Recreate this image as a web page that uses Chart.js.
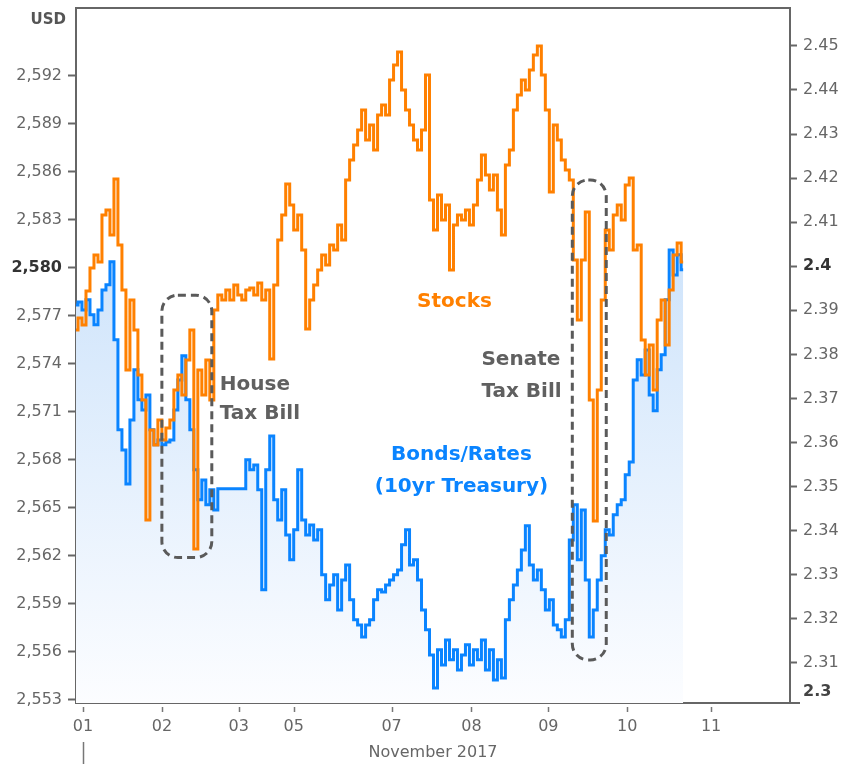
<!DOCTYPE html>
<html>
<head>
<meta charset="utf-8">
<script src="https://cdn.jsdelivr.net/npm/chart.js@4/dist/chart.umd.min.js"></script>
<style>
  body { margin: 0; background: #fff; }
  #wrap { width: 845px; height: 764px; position: relative; }
</style>
</head>
<body>
<div id="wrap"><canvas id="chart"></canvas></div>
<script>
// S&P futures (USD) and 10yr Treasury yield, sampled across the session
const stocks = [
  2576.13, 2576.88, 2576.44, 2578.56, 2580.00, 2580.81, 2580.38, 2583.31, 2583.63, 2582.06,
  2585.56, 2581.44, 2578.63, 2573.63, 2578.00, 2576.13, 2573.31, 2571.75, 2564.25, 2569.88,
  2568.94, 2570.50, 2569.25, 2570.00, 2570.50, 2572.38, 2573.31, 2572.06, 2574.25, 2576.13,
  2562.44, 2573.63, 2572.06, 2574.25, 2571.75, 2577.38, 2578.31, 2578.00, 2578.63, 2578.00,
  2578.94, 2578.31, 2578.00, 2578.63, 2578.75, 2578.31, 2579.06, 2578.00, 2578.63, 2574.31,
  2578.94, 2581.75, 2583.31, 2585.25, 2583.94, 2582.38, 2583.31, 2581.13, 2576.19, 2578.00,
  2578.94, 2579.88, 2580.81, 2580.19, 2581.44, 2581.13, 2582.69, 2581.75, 2585.50, 2586.75,
  2587.69, 2588.63, 2589.88, 2588.00, 2588.94, 2587.38, 2589.56, 2590.19, 2589.56, 2591.75,
  2592.69, 2593.50, 2591.13, 2589.88, 2588.94, 2588.00, 2587.38, 2588.63, 2592.06, 2584.25,
  2582.38, 2584.56, 2583.00, 2583.94, 2579.88, 2582.69, 2583.31, 2583.00, 2583.63, 2582.69,
  2583.94, 2585.50, 2587.06, 2585.81, 2584.88, 2585.81, 2583.63, 2582.06, 2586.44, 2587.38,
  2589.88, 2590.81, 2591.75, 2591.13, 2592.38, 2593.31, 2593.88, 2592.06, 2589.88, 2584.75,
  2588.94, 2588.00, 2586.75, 2586.13, 2585.50, 2580.50, 2576.75, 2580.50, 2583.50, 2571.75,
  2564.19, 2572.38, 2578.00, 2582.38, 2581.13, 2583.31, 2583.94, 2583.00, 2585.19, 2585.63,
  2581.13, 2581.44, 2575.50, 2573.31, 2575.19, 2572.38, 2576.75, 2578.00, 2575.19, 2578.63,
  2580.81, 2581.56, 2580.38
];
const bonds = [
  2.3912, 2.3919, 2.3901, 2.3924, 2.3890, 2.3867, 2.3901, 2.3946, 2.3958, 2.4010,
  2.3833, 2.3629, 2.3583, 2.3506, 2.3651, 2.3765, 2.3697, 2.3674, 2.3708, 2.3629,
  2.3595, 2.3606, 2.3595, 2.3601, 2.3606, 2.3674, 2.3742, 2.3797, 2.3697, 2.3629,
  2.3538, 2.3470, 2.3515, 2.3459, 2.3493, 2.3447, 2.3495, 2.3495, 2.3495, 2.3495,
  2.3495, 2.3495, 2.3495, 2.3561, 2.3538, 2.3549, 2.3493, 2.3266, 2.3538, 2.3615,
  2.3470, 2.3424, 2.3493, 2.3390, 2.3334, 2.3402, 2.3538, 2.3424, 2.3390, 2.3413,
  2.3379, 2.3402, 2.3300, 2.3243, 2.3277, 2.3300, 2.3220, 2.3288, 2.3322, 2.3243,
  2.3198, 2.3186, 2.3159, 2.3186, 2.3198, 2.3243, 2.3266, 2.3261, 2.3277, 2.3288,
  2.3300, 2.3311, 2.3368, 2.3402, 2.3322, 2.3334, 2.3288, 2.3220, 2.3175, 2.3118,
  2.3043, 2.3130, 2.3095, 2.3152, 2.3107, 2.3130, 2.3084, 2.3118, 2.3141, 2.3095,
  2.3130, 2.3107, 2.3152, 2.3084, 2.3130, 2.3061, 2.3107, 2.3066, 2.3198, 2.3243,
  2.3277, 2.3311, 2.3356, 2.3411, 2.3322, 2.3288, 2.3311, 2.3266, 2.3220, 2.3243,
  2.3186, 2.3175, 2.3159, 2.3198, 2.3379, 2.3459, 2.3334, 2.3447, 2.3288, 2.3159,
  2.3220, 2.3288, 2.3343, 2.3402, 2.3390, 2.3436, 2.3459, 2.3470, 2.3527, 2.3556,
  2.3742, 2.3788, 2.3753, 2.3810, 2.3708, 2.3672, 2.3765, 2.3799, 2.3924, 2.4037,
  2.3980, 2.4026, 2.3992
];

// x axis: trading-time units, day labels where each session opens
const dayLabels = ["01", "02", "03", "05", "07", "08", "09", "10", "11"];
const dayTicks = [1.75, 21.5, 40.75, 54.5, 79, 99, 118.25, 138, 159];
const usdTicks = [2553, 2556, 2559, 2562, 2565, 2568, 2571, 2574, 2577, 2580, 2583, 2586, 2589, 2592];
const yieldTicks = [2.31, 2.32, 2.33, 2.34, 2.35, 2.36, 2.37, 2.38, 2.39, 2.40, 2.41, 2.42, 2.43, 2.44, 2.45];

const ORANGE = "#ff8000";
const BLUE = "#0a84ff";
const GREY = "#666666";
const FONT = "DejaVu Sans";

// dashed boxes (x in time units, y in USD)
const boxes = [
  { x0: 21.5, x1: 34, y0: 2578.3, y1: 2561.9 },
  { x0: 124.25, x1: 132.75, y0: 2585.5, y1: 2555.5 }
];
const notes = [
  { text: "Stocks", x: 94.75, y: 2577.9, color: ORANGE, align: "center" },
  { text: "Bonds/Rates", x: 96.5, y: 2568.3, color: BLUE, align: "center" },
  { text: "(10yr Treasury)", x: 96.5, y: 2566.3, color: BLUE, align: "center" },
  { text: "House", x: 36, y: 2572.7, color: "#606060", align: "left" },
  { text: "Tax Bill", x: 36, y: 2570.9, color: "#606060", align: "left" },
  { text: "Senate", x: 101.5, y: 2574.25, color: "#606060", align: "left" },
  { text: "Tax Bill", x: 101.5, y: 2572.25, color: "#606060", align: "left" }
];

const isBoldUsd = c => !!(c.tick && c.tick.value === 2580);
const isBoldYield = c => !!(c.tick && Math.abs(c.tick.value - 2.4) < 1e-6);

const extras = {
  id: "extras",
  afterDatasetsDraw(chart) {
    const ctx = chart.ctx;
    const xs = chart.scales.x, ys = chart.scales.y;
    const a = chart.chartArea;
    ctx.save();
    // frame top + bottom line extension
    ctx.strokeStyle = GREY;
    ctx.lineWidth = 2;
    ctx.beginPath();
    ctx.moveTo(a.left - 1, a.top);
    ctx.lineTo(a.right + 1, a.top);
    ctx.moveTo(a.right, a.bottom);
    ctx.lineTo(a.right + 10, a.bottom);
    ctx.stroke();
    // small x tick marks
    ctx.lineWidth = 1.5;
    ctx.strokeStyle = "#777";
    ctx.beginPath();
    dayTicks.forEach(v => {
      const px = Math.round(xs.getPixelForValue(v)) + 0.5;
      ctx.moveTo(px, a.bottom + 4);
      ctx.lineTo(px, a.bottom + 9);
    });
    const p0 = Math.round(xs.getPixelForValue(dayTicks[0])) + 0.5;
    ctx.moveTo(p0, a.bottom + 39);
    ctx.lineTo(p0, a.bottom + 61);
    ctx.stroke();
    // dashed boxes
    ctx.strokeStyle = "#5a5a5a";
    ctx.lineWidth = 3;
    ctx.setLineDash([8, 5]);
    boxes.forEach(b => {
      const x0 = xs.getPixelForValue(b.x0), x1 = xs.getPixelForValue(b.x1);
      const y0 = ys.getPixelForValue(b.y0), y1 = ys.getPixelForValue(b.y1);
      ctx.beginPath();
      ctx.roundRect(x0, y0, x1 - x0, y1 - y0, 16);
      ctx.stroke();
    });
    ctx.setLineDash([]);
    // annotation text
    ctx.font = "bold 20px " + FONT;
    ctx.textBaseline = "middle";
    notes.forEach(n => {
      ctx.fillStyle = n.color;
      ctx.textAlign = n.align;
      ctx.fillText(n.text, xs.getPixelForValue(n.x), ys.getPixelForValue(n.y));
    });
    // axis captions
    ctx.font = "bold 15px " + FONT;
    ctx.fillStyle = "#555";
    ctx.textAlign = "right";
    ctx.fillText("USD", 66, 20);
    ctx.textAlign = "left";
    ctx.fillStyle = "#444";
    ctx.font = "bold 16px " + FONT;
    ctx.fillText("2.3", a.right + 13, a.bottom - 11);
    ctx.restore();
  }
};

const noPad = s => { s.paddingTop = 0; s.paddingBottom = 0; s.paddingLeft = 0; s.paddingRight = 0; };

const canvas = document.getElementById("chart");

new Chart(canvas, {
  type: "line",
  data: {
    datasets: [
      {
        label: "Stocks",
        data: stocks.map((v, i) => ({ x: i, y: v })),
        yAxisID: "y",
        borderColor: ORANGE,
        borderWidth: 3,
        pointRadius: 0,
        stepped: "middle",
        fill: false
      },
      {
        label: "Bonds/Rates",
        data: bonds.map((v, i) => ({ x: i, y: v })),
        yAxisID: "y1",
        borderColor: BLUE,
        borderWidth: 3,
        pointRadius: 0,
        stepped: "middle",
        fill: "start",
        backgroundColor: (c) => {
          const area = c.chart.chartArea;
          if (!area) return "rgba(210,230,252,0.6)";
          const g = c.chart.ctx.createLinearGradient(0, area.top + 250, 0, area.bottom);
          g.addColorStop(0, "rgba(207,228,251,1)");
          g.addColorStop(1, "rgba(252,253,255,1)");
          return g;
        }
      }
    ]
  },
  options: {
    responsive: true,
    maintainAspectRatio: false,
    animation: false,
    layout: { padding: { top: 8, left: 0, right: 0, bottom: 0 } },
    plugins: {
      legend: { display: false },
      tooltip: { enabled: false }
    },
    scales: {
      x: {
        type: "linear",
        min: 0,
        max: 178.75,
        afterBuildTicks: s => { s.ticks = dayTicks.map(v => ({ value: v })); },
        afterFit: s => { s.height = 61; noPad(s); },
        grid: { display: true, drawOnChartArea: false, drawTicks: false, color: "transparent" },
        border: { display: true, color: GREY, width: 2 },
        ticks: {
          padding: 14,
          maxRotation: 0,
          autoSkip: false,
          color: GREY,
          font: { family: FONT, size: 16 },
          callback: (v, i) => dayLabels[i]
        },
        title: {
          display: true,
          text: "November 2017",
          color: GREY,
          font: { family: FONT, size: 16 },
          padding: { top: 2, bottom: 2 }
        }
      },
      y: {
        position: "left",
        min: 2552.81,
        max: 2596.25,
        afterBuildTicks: s => { s.ticks = usdTicks.map(v => ({ value: v })); },
        afterFit: s => { s.width = 76; noPad(s); },
        grid: { drawOnChartArea: false, tickLength: 8, tickColor: GREY, tickWidth: 2 },
        border: { display: true, color: GREY, width: 2 },
        ticks: {
          padding: 6,
          color: c => isBoldUsd(c) ? "#333" : GREY,
          font: c => ({ family: FONT, size: 16, weight: isBoldUsd(c) ? "bold" : "normal" }),
          callback: v => v.toLocaleString("en-US")
        }
      },
      y1: {
        position: "right",
        min: 2.3009,
        max: 2.4586,
        afterBuildTicks: s => { s.ticks = yieldTicks.map(v => ({ value: v })); },
        afterFit: s => { s.width = 55; noPad(s); },
        grid: { drawOnChartArea: false, tickLength: 7, tickColor: GREY, tickWidth: 2 },
        border: { display: true, color: GREY, width: 2 },
        ticks: {
          padding: 6,
          color: c => isBoldYield(c) ? "#333" : GREY,
          font: c => ({ family: FONT, size: 16, weight: isBoldYield(c) ? "bold" : "normal" }),
          callback: v => Math.abs(v - 2.4) < 1e-6 ? "2.4" : v.toFixed(2)
        }
      }
    }
  },
  plugins: [extras]
});
</script>
</body>
</html>
